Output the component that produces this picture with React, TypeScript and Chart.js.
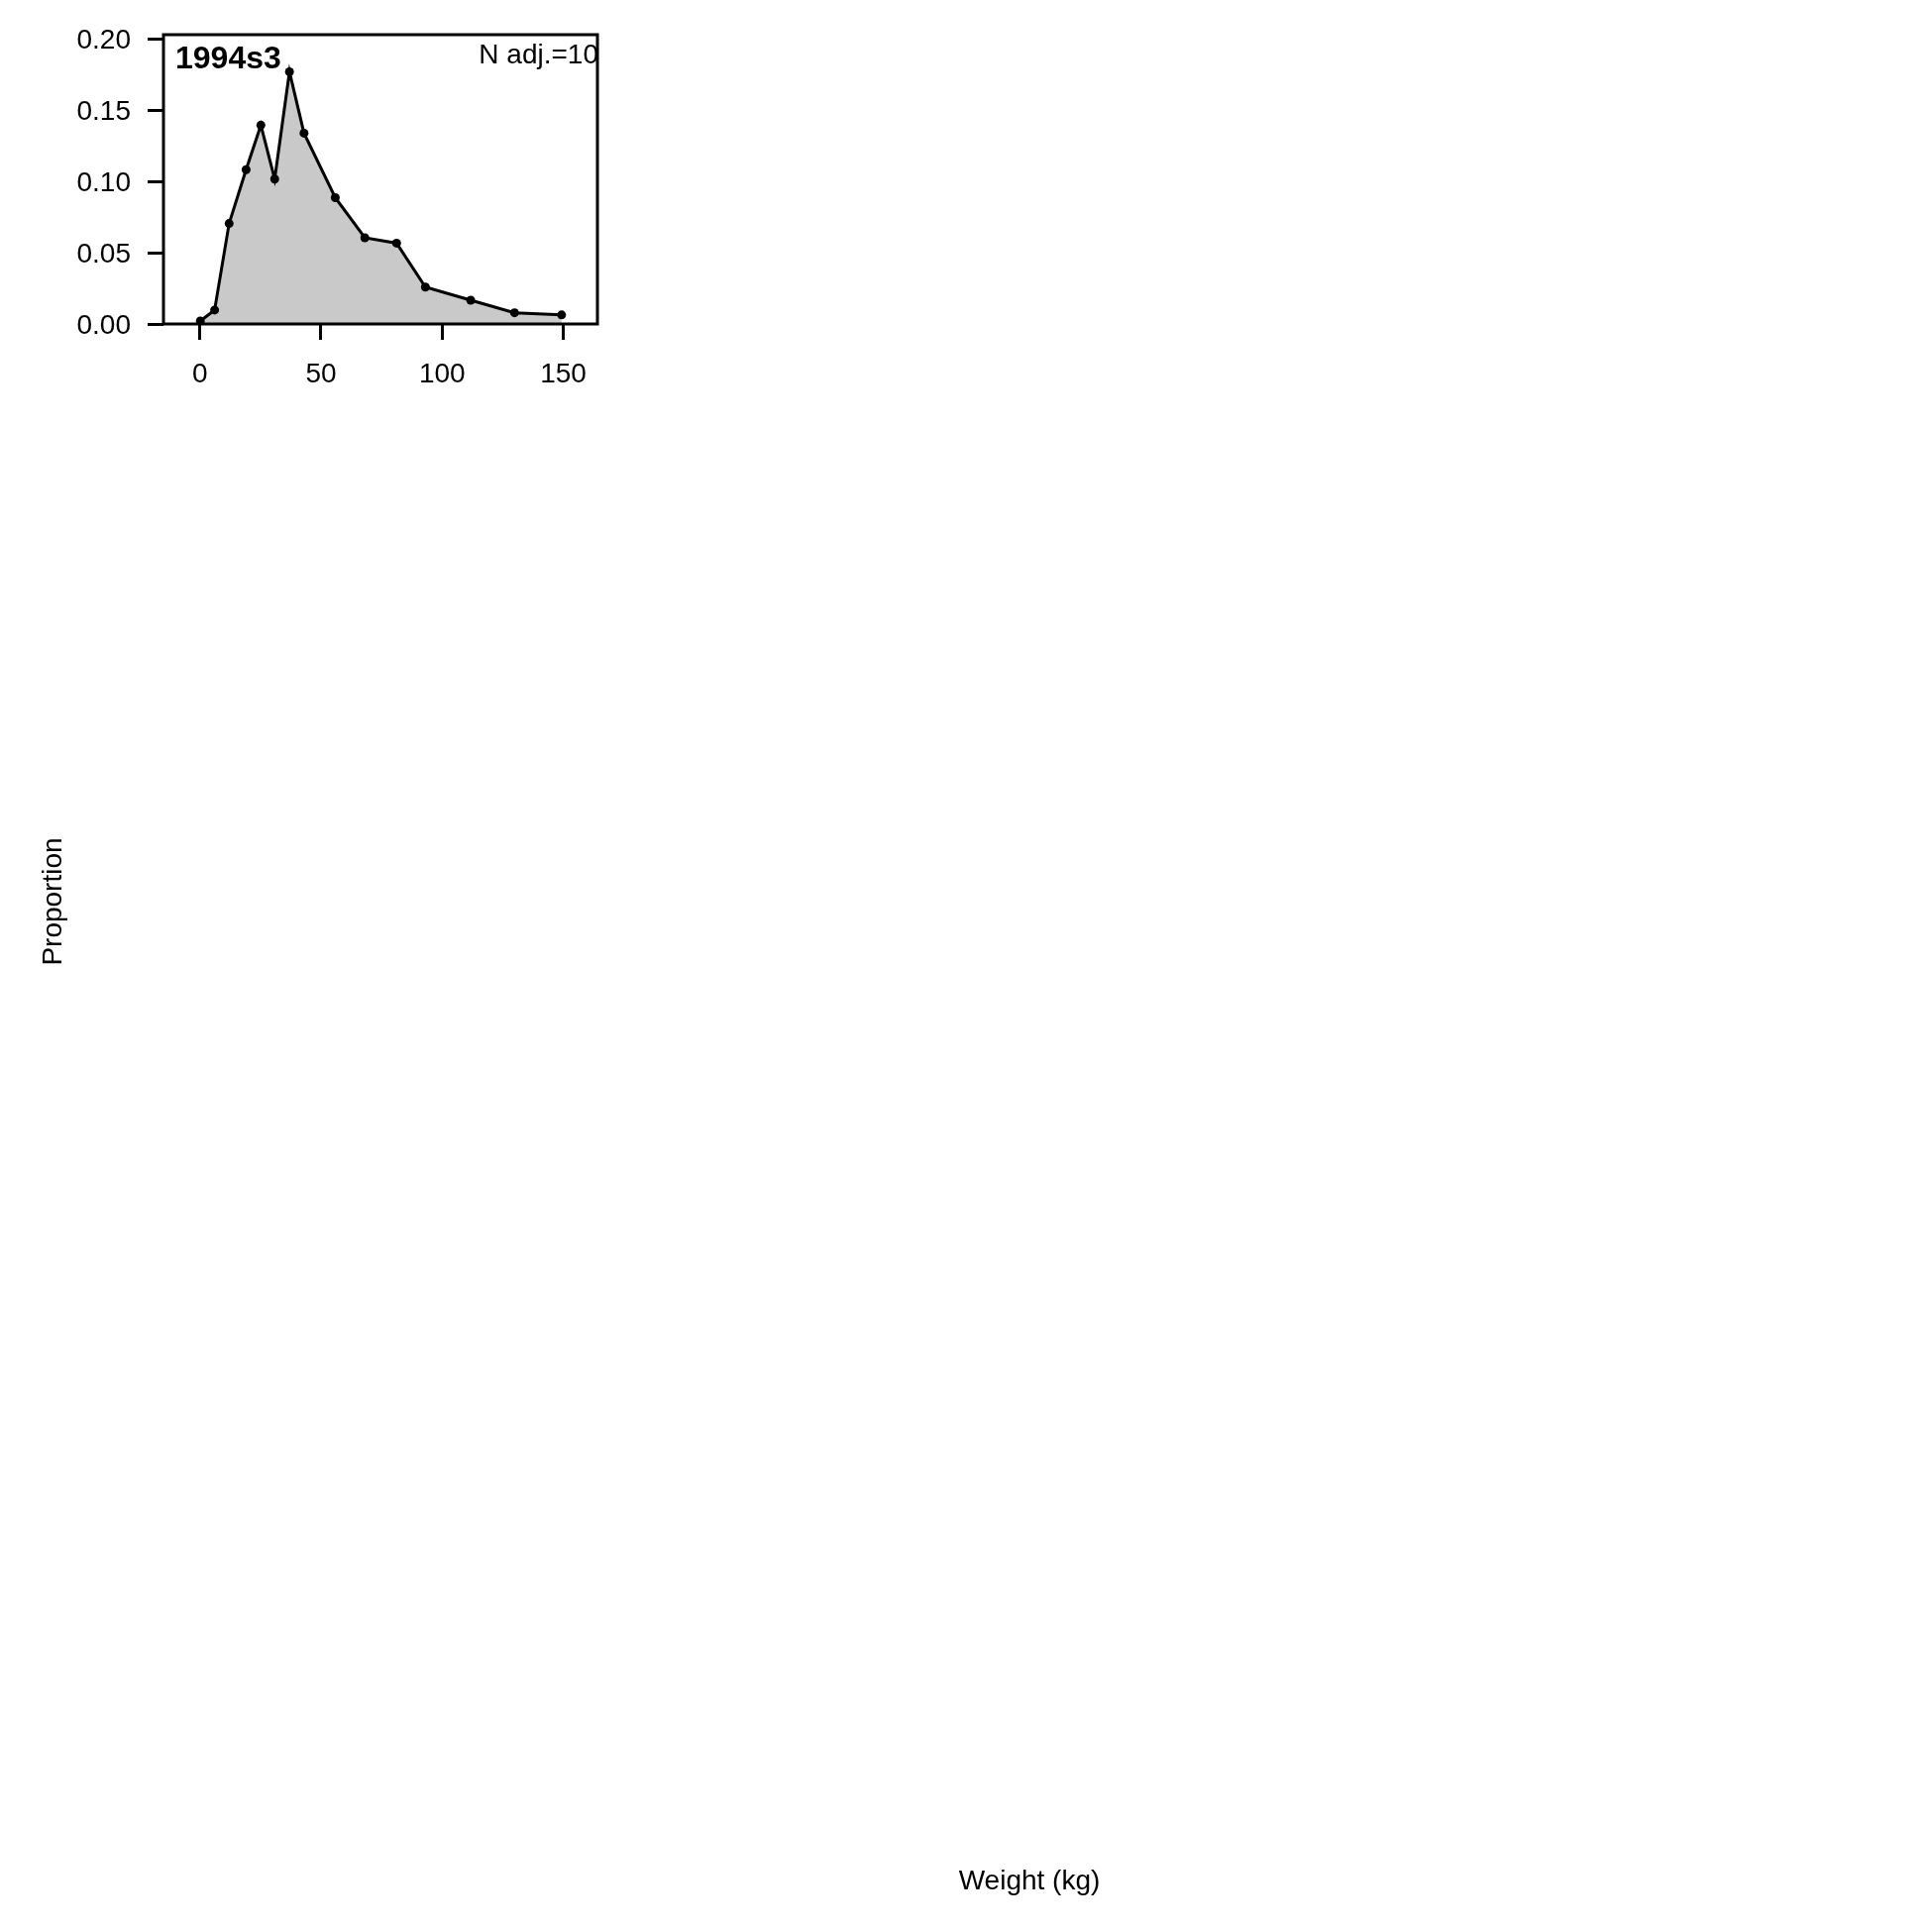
import { useEffect, useRef } from 'react';
import Chart from 'chart.js/auto';
import type { Plugin } from 'chart.js';

// weight bins (kg) and observed proportion in each
const weights = [0.2, 6.1, 12.1, 19.1, 25.2, 30.9, 37.0, 43.0, 55.9, 68.1, 81.2, 93.1, 111.8, 129.9, 149.3];
const proportions = [0.0021, 0.0098, 0.0706, 0.1084, 0.1397, 0.1018, 0.1772, 0.1341, 0.0888, 0.0606, 0.0568, 0.0259, 0.0167, 0.0079, 0.0064];

const xTicks = [0, 50, 100, 150];
const yTicks = [0, 0.05, 0.1, 0.15, 0.2];

const panelTitle = '1994s3';
const panelNote = 'N adj.=10';
const xTitle = 'Weight (kg)';
const yTitle = 'Proportion';

const FONT = "'Liberation Sans', Arial, sans-serif";

const framePlugin: Plugin<'line'> = {
  id: 'frame',
  afterDraw(chart) {
    const { ctx, chartArea } = chart;
    ctx.save();
    ctx.strokeStyle = '#000';
    ctx.lineWidth = 3;
    ctx.strokeRect(chartArea.left, chartArea.top, chartArea.right - chartArea.left, chartArea.bottom - chartArea.top);

    ctx.fillStyle = '#000';
    ctx.textBaseline = 'alphabetic';

    ctx.font = `bold 32px ${FONT}`;
    ctx.textAlign = 'left';
    ctx.fillText(panelTitle, chartArea.left + 12, chartArea.top + 34);

    ctx.font = `28px ${FONT}`;
    ctx.textAlign = 'right';
    ctx.fillText(panelNote, chartArea.right + 1, chartArea.top + 29);

    ctx.textAlign = 'center';
    ctx.fillText(xTitle, 1039, 1907);

    ctx.translate(62, 910);
    ctx.rotate(-Math.PI / 2);
    ctx.fillText(yTitle, 0, 0);
    ctx.restore();
  },
};

export default function App() {
  const canvasRef = useRef<HTMLCanvasElement | null>(null);

  useEffect(() => {
    if (!canvasRef.current) {
      return;
    }

    const chart = new Chart(canvasRef.current, {
      type: 'line',
      data: {
        datasets: [
          {
            data: weights.map((w, i) => ({ x: w, y: proportions[i] })),
            borderColor: '#000',
            borderWidth: 3,
            backgroundColor: '#c9c9c9',
            fill: 'origin',
            pointRadius: 4.5,
            pointBackgroundColor: '#000',
            pointBorderWidth: 0,
            tension: 0,
          },
        ],
      },
      options: {
        responsive: false,
        animation: false,
        devicePixelRatio: 1,
        layout: { padding: { left: 0, top: 35, right: 1347, bottom: 1543 } },
        plugins: { legend: { display: false }, tooltip: { enabled: false } },
        scales: {
          x: {
            type: 'linear',
            min: -15,
            max: 164.1,
            afterBuildTicks: (scale) => {
              scale.ticks = xTicks.map((value) => ({ value }));
            },
            afterFit: (scale) => {
              scale.height = 80;
            },
            border: { display: false },
            grid: { drawOnChartArea: false, drawTicks: true, tickLength: 16, color: '#000', lineWidth: 3 },
            ticks: { color: '#000', font: { family: FONT, size: 28 }, padding: 18, maxRotation: 0 },
          },
          y: {
            type: 'linear',
            min: 0,
            max: 0.2033,
            afterBuildTicks: (scale) => {
              scale.ticks = yTicks.map((value) => ({ value }));
            },
            afterFit: (scale) => {
              scale.width = 165;
            },
            border: { display: false },
            grid: { drawOnChartArea: false, drawTicks: true, tickLength: 16, color: '#000', lineWidth: 3 },
            ticks: {
              color: '#000',
              font: { family: FONT, size: 28 },
              padding: 17,
              labelOffset: 2,
              callback: (value) => Number(value).toFixed(2),
            },
          },
        },
      },
      plugins: [framePlugin],
    });

    return () => {
      chart.destroy();
    };
  }, []);

  return (
    <div style={{ position: 'absolute', left: 0, top: 0, width: 1950, height: 1950, overflow: 'hidden', background: '#fff' }}>
      <canvas ref={canvasRef} width={1950} height={1950} />
    </div>
  );
}
